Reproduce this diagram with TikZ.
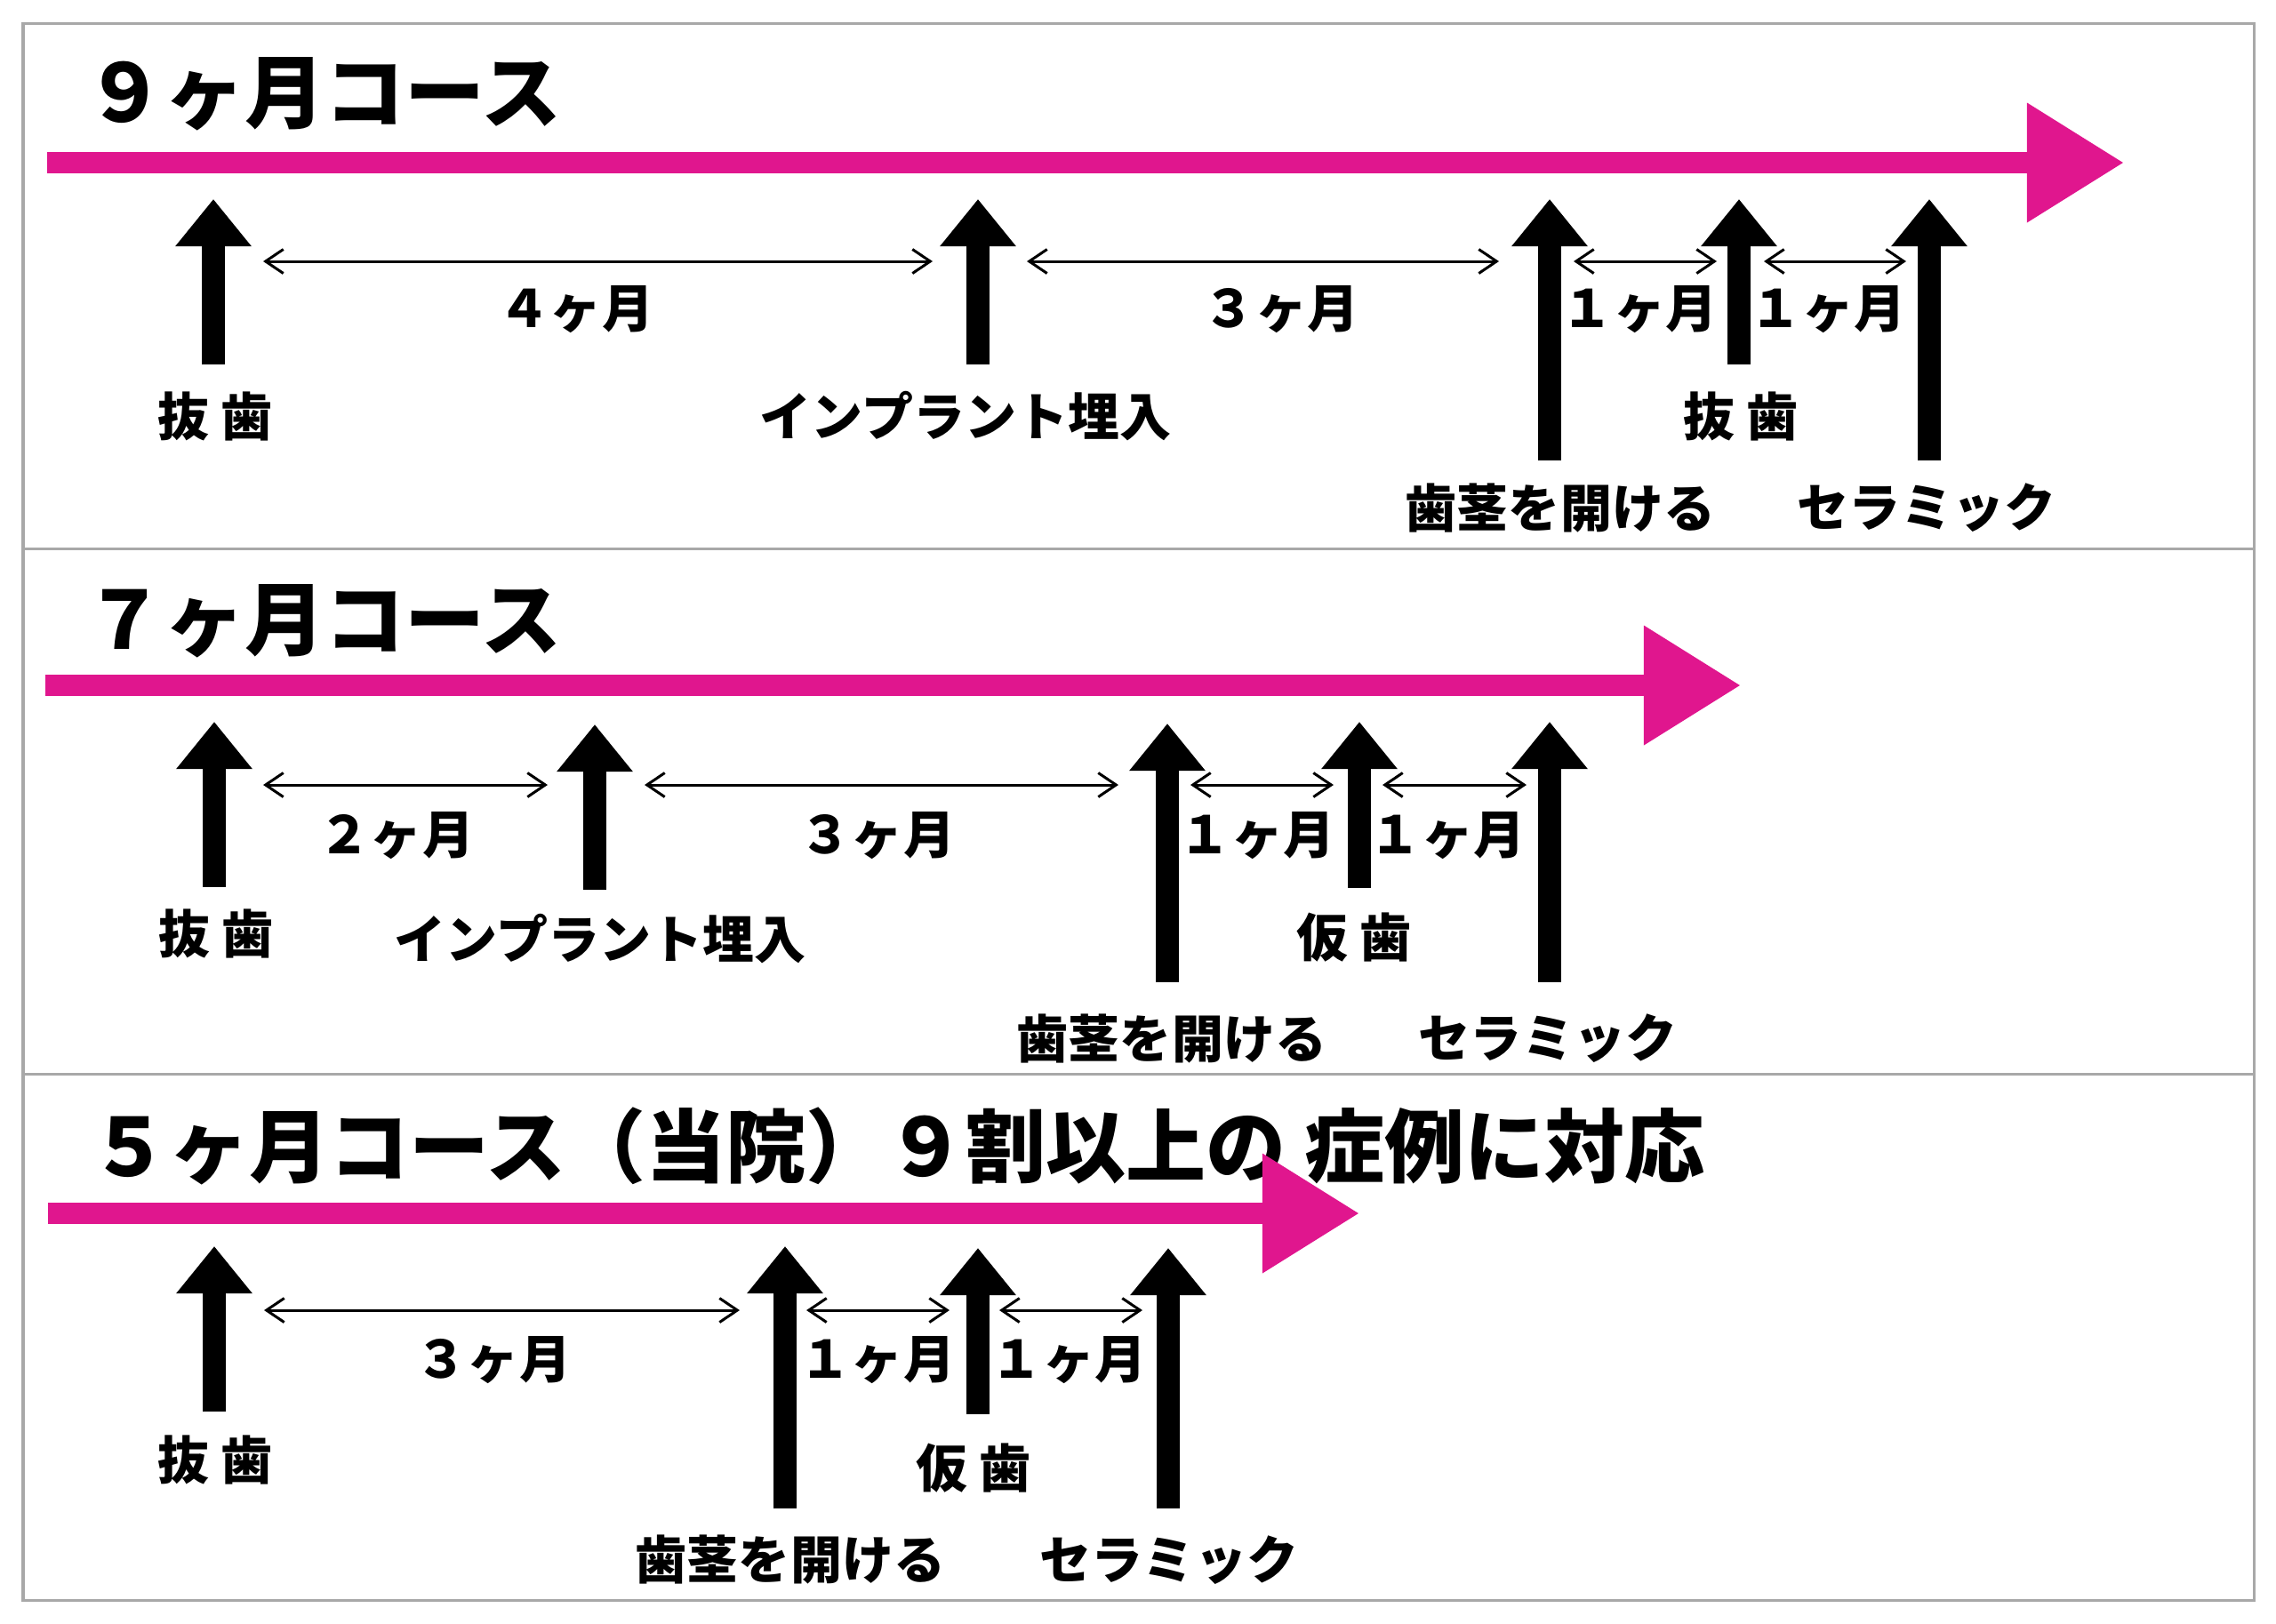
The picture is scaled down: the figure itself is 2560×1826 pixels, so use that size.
\documentclass[tikz,border=0pt]{standalone}
\usepackage{fontspec}
\setmainfont{Noto Sans CJK JP}
\usetikzlibrary{arrows.meta}
\definecolor{coursepink}{RGB}{224,22,142}
\definecolor{framegray}{RGB}{168,168,168}
\tikzset{>={Straight Barb[length=0.2cm,width=0.27cm]},
  frame/.style={framegray,line width=0.03cm},
  title/.style={anchor=base west,inner sep=0pt,font=\fontsize{25.6}{30}\selectfont\bfseries},
  lbl/.style={inner sep=0pt,font=\fontsize{16.5}{20}\selectfont\bfseries},
  timeline/.style={coursepink,line width=0.24cm,-{Triangle[length=1.09cm,width=1.28cm]}},
  event/.style={line width=0.26cm,-{Triangle[length=0.53cm,width=0.82cm]}},
  span/.style={<->,line width=0.03cm}}

\begin{document}
\begin{tikzpicture}[x=0.01cm,y=-0.01cm]
  \useasboundingbox (0,0) rectangle (2560,1826);
  \draw [frame] (26,26) rectangle (2535,1800);
  \draw [frame] (26,617) -- (2535,617);
  \draw [frame] (26,1208) -- (2535,1208);

  % 9 months
  \node [title] (title9) at (95,137) {９ヶ月コース};
  \draw [timeline] (53,183) -- (2389,183);
  \draw [event] (240,410) coordinate (ext9) -- (240,224);
  \draw [event] (1100,410) coordinate (imp9) -- (1100,224);
  \draw [event] (1743,518) coordinate (gum9) -- (1743,224);
  \draw [event] (1956,410) coordinate (extb9) -- (1956,224);
  \draw [event] (2170,518) coordinate (cer9) -- (2170,224);
  \draw [span] (296,294) -- (1049,294);
  \draw [span] (1155,294) -- (1686,294);
  \draw [span] (1770,294) -- (1931,294);
  \draw [span] (1984,294) -- (2144,294);
  \node [lbl] (m94) at (648,348) {４ヶ月};
  \node [lbl] (m93) at (1441,348) {３ヶ月};
  \node [lbl] (m91a) at (1844,348) {１ヶ月};
  \node [lbl] (m91b) at (2056,348) {１ヶ月};
  \node [lbl] (lext9) at (242,468) {抜 歯};
  \node [lbl] (limp9) at (1086,468) {インプラント埋入};
  \node [lbl] (lextb9) at (1958,468) {抜 歯};
  \node [lbl] (lgum9) at (1755,571) {歯茎を開ける};
  \node [lbl] (lcer9) at (2167,571) {セラミック};

  % 7 months
  \node [title] (title7) at (95,730) {７ヶ月コース};
  \draw [timeline] (51,771) -- (1958,771);
  \draw [event] (241,998) coordinate (ext7) -- (241,812);
  \draw [event] (669,1001) coordinate (imp7) -- (669,815);
  \draw [event] (1313,1105) coordinate (gum7) -- (1313,814);
  \draw [event] (1529,999) coordinate (tmp7) -- (1529,812);
  \draw [event] (1743,1105) coordinate (cer7) -- (1743,812);
  \draw [span] (296,883) -- (616,883);
  \draw [span] (725,883) -- (1258,883);
  \draw [span] (1339,883) -- (1500,883);
  \draw [span] (1555,883) -- (1717,883);
  \node [lbl] (m72) at (446,940) {２ヶ月};
  \node [lbl] (m73) at (987,940) {３ヶ月};
  \node [lbl] (m71a) at (1414,940) {１ヶ月};
  \node [lbl] (m71b) at (1628,940) {１ヶ月};
  \node [lbl] (lext7) at (243,1050) {抜 歯};
  \node [lbl] (limp7) at (675,1056) {インプラント埋入};
  \node [lbl] (ltmp7) at (1523,1055) {仮 歯};
  \node [lbl] (lgum7) at (1318,1168) {歯茎を開ける};
  \node [lbl] (lcer7) at (1741,1168) {セラミック};

  % 5 months
  \node [title] (title5) at (100,1323) {５ヶ月コース（当院）９割以上の 症例に対応};
  \draw [timeline] (54,1365) -- (1529,1365);
  \draw [event] (241,1588) coordinate (ext5) -- (241,1402);
  \draw [event] (883,1697) coordinate (gum5) -- (883,1402);
  \draw [event] (1100,1591) coordinate (tmp5) -- (1100,1404);
  \draw [event] (1314,1697) coordinate (cer5) -- (1314,1404);
  \draw [span] (297,1474) -- (832,1474);
  \draw [span] (907,1474) -- (1068,1474);
  \draw [span] (1124,1474) -- (1285,1474);
  \node [lbl] (m53) at (555,1530) {３ヶ月};
  \node [lbl] (m51a) at (987,1530) {１ヶ月};
  \node [lbl] (m51b) at (1202,1530) {１ヶ月};
  \node [lbl] (lext5) at (242,1642) {抜 歯};
  \node [lbl] (ltmp5) at (1095,1652) {仮 歯};
  \node [lbl] (lgum5) at (889,1754) {歯茎を開ける};
  \node [lbl] (lcer5) at (1315,1755) {セラミック};
\end{tikzpicture}
\end{document}
